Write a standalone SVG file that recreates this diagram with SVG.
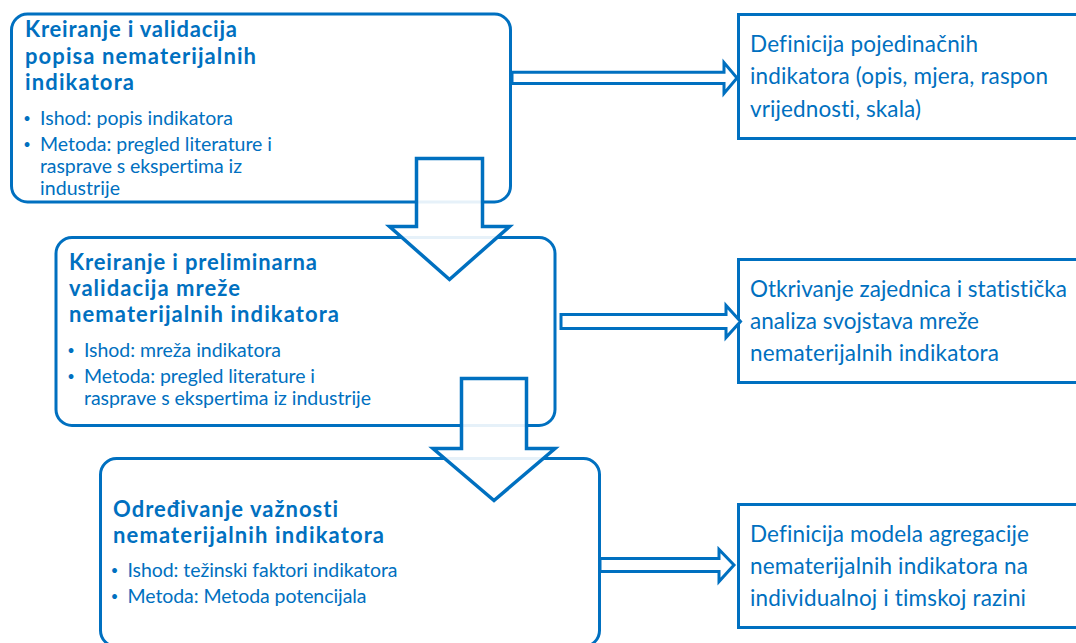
<svg xmlns="http://www.w3.org/2000/svg" width="1076" height="643" viewBox="0 0 1076 643">
<style>
.box{fill:#fff;stroke:#0070C0;stroke-width:3}
.arr{fill:#fff;stroke:#0070C0;stroke-width:3;stroke-linejoin:miter}
.down{fill:#fff;fill-opacity:0.9;stroke:#0070C0;stroke-width:3.5}
text{font-family:Lato,"Liberation Sans",sans-serif;fill:#0070C0;font-variant-ligatures:none}
.t{font-size:22px;font-weight:bold}
.b{font-size:19.5px}
.r{font-size:22.5px}
.d{font-size:13px;text-anchor:middle}
</style>
<rect width="1076" height="643" fill="#fff"/>
<g id="node1">
<rect class="box" x="11.5" y="14" width="499" height="188" rx="16"/>
<text class="t" x="25" y="37" textLength="212">Kreiranje i validacija</text>
<text class="t" x="25" y="63.5" textLength="231">popisa nematerijalnih</text>
<text class="t" x="25" y="90" textLength="109">indikatora</text>
<text class="d" x="27" y="123">•</text>
<text class="b" x="40" y="125" textLength="193">Ishod: popis indikatora</text>
<text class="d" x="27" y="148.5">•</text>
<text class="b" x="40" y="150.5" textLength="232">Metoda: pregled literature i</text>
<text class="b" x="40" y="172.5" textLength="202">rasprave s ekspertima iz</text>
<text class="b" x="40" y="195" textLength="80">industrije</text>
</g>
<g id="node2">
<rect class="box" x="56" y="237.5" width="499" height="188" rx="16"/>
<text class="t" x="69" y="270" textLength="248">Kreiranje i preliminarna</text>
<text class="t" x="69" y="296" textLength="171">validacija mreže</text>
<text class="t" x="69" y="322" textLength="270">nematerijalnih indikatora</text>
<text class="d" x="71" y="355">•</text>
<text class="b" x="84" y="357" textLength="197">Ishod: mreža indikatora</text>
<text class="d" x="71" y="381">•</text>
<text class="b" x="84" y="383" textLength="231">Metoda: pregled literature i</text>
<text class="b" x="84" y="405" textLength="287">rasprave s ekspertima iz industrije</text>
</g>
<g id="node3">
<rect class="box" x="100.5" y="458.5" width="499" height="188" rx="16"/>
<text class="t" x="113" y="517" textLength="225">Određivanje važnosti</text>
<text class="t" x="113" y="543" textLength="271">nematerijalnih indikatora</text>
<text class="d" x="114.5" y="575">•</text>
<text class="b" x="127.5" y="577" textLength="270">Ishod: težinski faktori indikatora</text>
<text class="d" x="114.5" y="601">•</text>
<text class="b" x="127.5" y="603" textLength="239">Metoda: Metoda potencijala</text>
</g>
<g id="out1">
<rect class="box" x="738.5" y="14.5" width="345" height="124"/>
<text class="r" x="750" y="52" textLength="228">Definicija pojedinačnih</text>
<text class="r" x="750" y="84" textLength="298">indikatora (opis, mjera, raspon</text>
<text class="r" x="750" y="116.5" textLength="171">vrijednosti, skala)</text>
</g>
<g id="out2">
<rect class="box" x="738.5" y="259.5" width="345" height="123"/>
<text class="r" x="750" y="296.5" textLength="317">Otkrivanje zajednica i statistička</text>
<text class="r" x="750" y="328.5" textLength="229">analiza svojstava mreže</text>
<text class="r" x="750" y="361" textLength="249">nematerijalnih indikatora</text>
</g>
<g id="out3">
<rect class="box" x="738.5" y="504.5" width="345" height="123"/>
<text class="r" x="750" y="541.5" textLength="279">Definicija modela agregacije</text>
<text class="r" x="750" y="573.5" textLength="278">nematerijalnih indikatora na</text>
<text class="r" x="750" y="606" textLength="276">individualnoj i timskoj razini</text>
</g>
<g id="connectors">
<path class="arr" d="M512,72.2 H724 V62.5 L737,78 L724,93.5 V83.5 H512 Z"/>
<path class="arr" d="M561,314.5 H726 V305.5 L740.5,321.5 L726,337.5 V328.5 H561 Z"/>
<path class="arr" d="M600,558.5 H719 V549.5 L734,565 L719,581.5 V571.5 H600 Z"/>
<path class="down" d="M416.5,158.5 H482.5 V226.5 H509.5 L449.5,279.5 L389.5,226.5 H416.5 Z"/>
<path class="down" d="M461.5,378.5 H526.5 V448.5 H555 L494,500.5 L433,448.5 H461.5 Z"/>
</g>
</svg>
